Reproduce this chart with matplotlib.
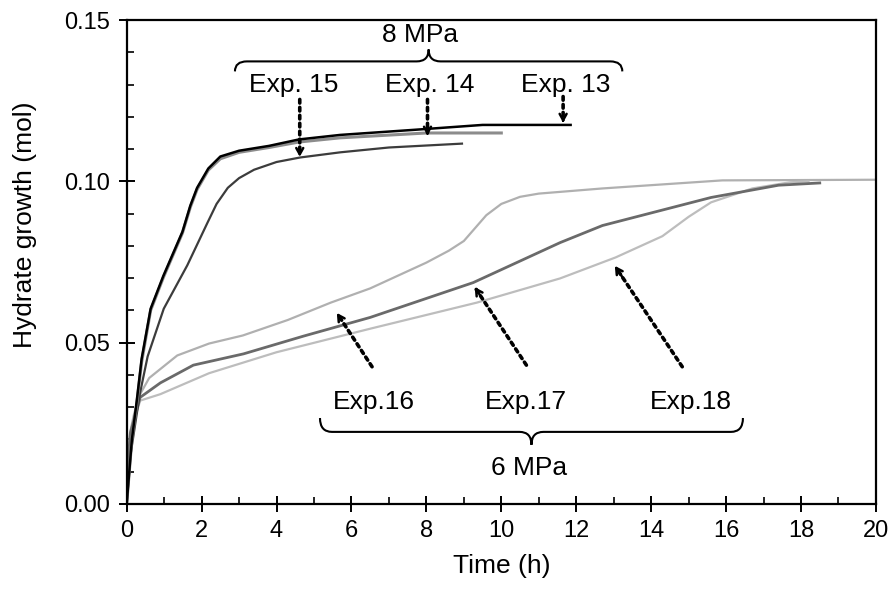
import numpy as np
import matplotlib
matplotlib.use('Agg')
import matplotlib.pyplot as plt
from matplotlib.path import Path
from matplotlib.patches import PathPatch
from matplotlib.ticker import MultipleLocator, FormatStrFormatter

plt.rcParams['font.family'] = ['Liberation Sans', 'DejaVu Sans']

# 8 MPa runs
t13 = [0, 0.07, 0.14, 0.27, 0.4, 0.64, 0.98, 1.49, 1.7, 1.88, 2.18, 2.5, 3.0, 3.8, 4.6, 5.7, 7.7, 9.5, 11.85]
y13 = [0, 0.010, 0.020, 0.032, 0.045, 0.0605, 0.0707, 0.0844, 0.0925, 0.098, 0.104, 0.1077, 0.1095, 0.111, 0.113, 0.1144, 0.116, 0.1175, 0.1175]
t14 = [0, 0.07, 0.14, 0.27, 0.4, 0.64, 0.98, 1.49, 1.7, 1.88, 2.18, 2.5, 3.0, 3.8, 4.6, 5.7, 8.0, 10.0]
y14 = [0, 0.010, 0.020, 0.031, 0.044, 0.0600, 0.0702, 0.0840, 0.0920, 0.0975, 0.1035, 0.107, 0.109, 0.1105, 0.1122, 0.1135, 0.115, 0.115]
t15 = [0, 0.1, 0.35, 0.56, 0.99, 1.62, 2.15, 2.4, 2.7, 3.0, 3.4, 4.0, 4.63, 5.7, 7.0, 8.95]
y15 = [0, 0.015, 0.034, 0.0457, 0.0605, 0.074, 0.087, 0.093, 0.098, 0.101, 0.1036, 0.106, 0.1074, 0.109, 0.1105, 0.1117]

# 6 MPa runs
t16 = [0, 0.03, 0.09, 0.2, 0.36, 0.6, 1.35, 2.2, 3.1, 4.3, 5.45, 6.5, 8.0, 8.6, 9.0, 9.3, 9.6, 10.0, 10.5, 11.0, 12.7, 15.9, 20.0]
y16 = [0, 0.012, 0.022, 0.028, 0.034, 0.039, 0.046, 0.0497, 0.0522, 0.057, 0.0624, 0.0668, 0.0748, 0.0785, 0.0815, 0.0855, 0.0895, 0.093, 0.0952, 0.0962, 0.0978, 0.1003, 0.1005]
t17 = [0, 0.03, 0.1, 0.36, 0.9, 1.78, 3.12, 4.72, 6.5, 9.25, 11.57, 12.7, 13.2, 15.6, 17.4, 18.5]
y17 = [0, 0.012, 0.022, 0.033, 0.0375, 0.043, 0.0465, 0.052, 0.0578, 0.0686, 0.081, 0.0863, 0.0878, 0.095, 0.0988, 0.0995]
t18 = [0, 0.03, 0.1, 0.36, 0.9, 2.2, 4.0, 6.5, 9.35, 11.57, 13.05, 14.3, 15.0, 15.6, 16.7, 17.7, 18.2]
y18 = [0, 0.012, 0.022, 0.032, 0.034, 0.0405, 0.047, 0.0543, 0.0624, 0.0699, 0.0764, 0.083, 0.089, 0.0935, 0.0978, 0.0997, 0.1]

# labels: (text, x, y) and arrows: (start, tip)
labels_8 = [('Exp. 15', 4.45, 0.130), ('Exp. 14', 8.1, 0.130), ('Exp. 13', 11.73, 0.130)]
arrows_8 = [((4.62, 0.1254), (4.62, 0.1076)), ((8.03, 0.1254), (8.03, 0.1142)), ((11.65, 0.1263), (11.65, 0.1182))]
labels_6 = [('Exp.16', 6.6, 0.0316), ('Exp.17', 10.67, 0.0316), ('Exp.18', 15.07, 0.0316)]
arrows_6 = [((6.55, 0.0425), (5.61, 0.0592)), ((10.67, 0.043), (9.29, 0.0672)), ((14.83, 0.0425), (13.03, 0.0738))]

fig = plt.figure(figsize=(8.92, 5.92), dpi=100)
ax = fig.add_axes([0.142, 0.149, 0.840, 0.817])

ax.plot(t16, y16, color='#b0b0b0', lw=1.6)
ax.plot(t18, y18, color='#bdbdbd', lw=1.6)
ax.plot(t17, y17, color='#6a6a6a', lw=2.0)
ax.plot(t15, y15, color='#3c3c3c', lw=1.6)
ax.plot(t14, y14, color='#8c8c8c', lw=2.2)
ax.plot(t13, y13, color='black', lw=1.8)

ax.set_xlim(0, 20)
ax.set_ylim(0, 0.15)
ax.xaxis.set_major_locator(MultipleLocator(2))
ax.xaxis.set_minor_locator(MultipleLocator(1))
ax.yaxis.set_major_locator(MultipleLocator(0.05))
ax.yaxis.set_minor_locator(MultipleLocator(0.01))
ax.yaxis.set_major_formatter(FormatStrFormatter('%.2f'))
ax.tick_params(which='major', direction='inout', length=12, width=1.4, labelsize=17, pad=6)
ax.tick_params(which='minor', direction='in', length=5, width=1.2)
for s in ax.spines.values():
    s.set_linewidth(1.6)

ax.set_xlabel('Time (h)', fontsize=19, labelpad=8)
ax.set_ylabel('Hydrate growth (mol)', fontsize=19, labelpad=14)
ax.yaxis.set_label_coords(-0.12, 0.576)


def brace(ax, x0, x1, y0, h_end, h_tip, r_px=12):
    # curly brace in data coords; h_end/h_tip signed offsets of ends and cusp
    trans = ax.transData
    p0 = trans.transform((0, 0))
    p1 = trans.transform((1, 1))
    rx = r_px / (p1[0] - p0[0])
    xm = (x0 + x1) / 2
    verts = [(x0, y0 + h_end), (x0, y0), (x0 + rx, y0),
             (xm - rx, y0), (xm, y0), (xm, y0 + h_tip),
             (xm, y0), (xm + rx, y0),
             (x1 - rx, y0), (x1, y0), (x1, y0 + h_end)]
    codes = [Path.MOVETO, Path.CURVE3, Path.CURVE3,
             Path.LINETO, Path.CURVE3, Path.CURVE3,
             Path.CURVE3, Path.CURVE3,
             Path.LINETO, Path.CURVE3, Path.CURVE3]
    ax.add_patch(PathPatch(Path(verts, codes), fill=False, lw=1.5, color='black'))


brace(ax, 2.89, 13.23, 0.1372, -0.0031, 0.0037)
brace(ax, 5.16, 16.45, 0.0223, 0.0043, -0.0040)

ax.text(7.82, 0.1455, '8 MPa', fontsize=19, ha='center', va='center')
ax.text(10.75, 0.0112, '6 MPa', fontsize=19, ha='center', va='center')
for txt, x, y in labels_8 + labels_6:
    ax.text(x, y, txt, fontsize=19, ha='center', va='center')

for (sx, sy), (tx, ty) in arrows_8 + arrows_6:
    ax.annotate('', xy=(tx, ty), xytext=(sx, sy),
                arrowprops=dict(arrowstyle='-', lw=2.6, ls=(0, (1, 1.2)),
                                capstyle='round', shrinkA=0, shrinkB=2, color='black'))
    bx = tx + (sx - tx) * 0.12
    by = ty + (sy - ty) * 0.12
    ax.annotate('', xy=(tx, ty), xytext=(bx, by),
                arrowprops=dict(arrowstyle='->,head_length=0.45,head_width=0.25',
                                lw=1.8, shrinkA=0, shrinkB=0, color='black'))

fig.savefig('out.png', dpi=100)
